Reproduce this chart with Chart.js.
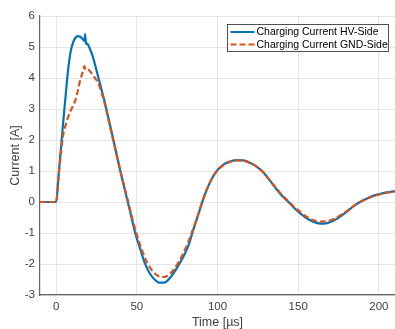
<!DOCTYPE html>
<html>
<head>
<meta charset="utf-8">
<script src="https://cdn.jsdelivr.net/npm/chart.js@4.4.1/dist/chart.umd.min.js"></script>
<style>
  html, body { margin: 0; padding: 0; background: #fff; }
  #wrap { width: 395px; height: 329px; }
</style>
</head>
<body>
<div id="wrap"><canvas id="chart"></canvas></div>
<script>
const timeUs = [-10, 0, 1.5, 3, 4.5, 6, 7.5, 9, 10.5, 12, 13.5, 15, 16.5, 17.5, 18, 18.5, 19, 20, 22, 24, 26, 28, 30, 32, 34, 37, 40, 43, 46, 49, 52, 55, 58, 61, 64, 67, 70, 73, 76, 79, 82, 85, 88, 91, 94, 97, 100, 104, 108, 112, 116, 120, 124, 128, 132, 136, 140, 144, 148, 152, 156, 160, 164, 168, 172, 176, 180, 184, 188, 192, 196, 200, 205, 210]

const hvSide = [0, 0, 0.85, 1.75, 2.65, 3.5, 4.3, 4.85, 5.15, 5.3, 5.35, 5.33, 5.25, 5.2, 5.42, 5.1, 5.12, 5.05, 4.8, 4.45, 4.05, 3.65, 3.25, 2.8, 2.35, 1.65, 0.95, 0.3, -0.35, -1.0, -1.5, -1.98, -2.3, -2.5, -2.6, -2.6, -2.48, -2.28, -2.02, -1.75, -1.4, -0.9, -0.42, 0.07, 0.48, 0.8, 1.03, 1.22, 1.31, 1.35, 1.34, 1.27, 1.15, 0.98, 0.72, 0.45, 0.2, 0.0, -0.22, -0.4, -0.55, -0.65, -0.7, -0.68, -0.6, -0.47, -0.32, -0.15, -0.01, 0.1, 0.19, 0.25, 0.31, 0.35]

const gndSide = [0, 0, 0.8, 1.6, 2.2, 2.5, 2.75, 2.95, 3.1, 3.3, 3.6, 3.95, 4.2, 4.38, 4.3, 4.28, 4.3, 4.27, 4.15, 4.0, 3.85, 3.55, 3.2, 2.75, 2.3, 1.62, 0.97, 0.35, -0.28, -0.88, -1.38, -1.8, -2.1, -2.3, -2.4, -2.42, -2.35, -2.17, -1.93, -1.63, -1.28, -0.85, -0.4, 0.08, 0.48, 0.8, 1.02, 1.2, 1.3, 1.34, 1.33, 1.27, 1.15, 0.98, 0.73, 0.47, 0.22, 0.02, -0.18, -0.35, -0.5, -0.6, -0.63, -0.62, -0.55, -0.43, -0.3, -0.14, -0.01, 0.1, 0.18, 0.24, 0.3, 0.34]

const seriesNames = ['Charging Current HV-Side', 'Charging Current GND-Side']
const xTicks = [0, 50, 100, 150, 200]
const yTicks = [-3, -2, -1, 0, 1, 2, 3, 4, 5, 6]

const blue = '#0072BD'
const orange = '#D95319'
const textColor = '#404040'
const gridColor = '#e5e5e5'
const axisColor = '#666666'
const font = 'Liberation Sans, Arial, Helvetica, sans-serif'

const toPoints = vals => timeUs.map((t, i) => ({ x: t, y: vals[i] }))

// legend drawn inside the plot, like matlab's northeast legend
const boxLegend = {
  id: 'boxLegend',
  afterDraw (chart) {
    const ctx = chart.ctx
    const ds = chart.data.datasets
    const x0 = 227.5
    const y0 = 24.5
    const w = 161
    const h = 27
    ctx.save()
    ctx.fillStyle = '#fff'
    ctx.fillRect(x0, y0, w, h)
    ctx.strokeStyle = '#262626'
    ctx.lineWidth = 0.8
    ctx.strokeRect(x0, y0, w, h)
    ctx.font = '10.5px ' + font
    ctx.textBaseline = 'middle'
    ds.forEach((d, i) => {
      const yy = y0 + 7.5 + i * 12.5
      ctx.strokeStyle = d.borderColor
      ctx.lineWidth = 2
      ctx.setLineDash(d.borderDash || [])
      ctx.beginPath()
      ctx.moveTo(x0 + 3, yy)
      ctx.lineTo(x0 + 27, yy)
      ctx.stroke()
      ctx.setLineDash([])
      ctx.fillStyle = '#000'
      ctx.fillText(d.label, x0 + 29, yy + 0.5)
    })
    ctx.restore()
  }
}

const myChart = document.querySelector('#chart')

// eslint-disable-next-line no-unused-vars, no-undef
const chart = new Chart(myChart, {
  type: 'line',
  data: {
    datasets: [{
      label: seriesNames[0],
      data: toPoints(hvSide),
      borderColor: blue,
      borderWidth: 2.2,
      pointRadius: 0,
      cubicInterpolationMode: 'monotone',
      order: 2
    }, {
      label: seriesNames[1],
      data: toPoints(gndSide),
      borderColor: orange,
      borderWidth: 2.2,
      borderDash: [6, 3],
      pointRadius: 0,
      cubicInterpolationMode: 'monotone',
      order: 1
    }]
  },
  options: {
    responsive: true,
    maintainAspectRatio: false,
    animation: false,
    layout: { padding: { top: 16, right: 0, left: 0, bottom: 0 } },
    plugins: {
      legend: { display: false },
      tooltip: { enabled: false }
    },
    scales: {
      x: {
        type: 'linear',
        min: -10,
        max: 210,
        afterBuildTicks: axis => { axis.ticks = xTicks.map(v => ({ value: v })) },
        afterFit: axis => { axis.height = 34 },
        grid: { color: gridColor, drawTicks: false },
        border: { color: axisColor, width: 1.2 },
        ticks: { color: textColor, font: { family: font, size: 11.5 }, padding: 5, maxRotation: 0 },
        title: {
          display: true,
          text: 'Time [µs]',
          color: textColor,
          font: { family: font, size: 12.5, lineHeight: 1 },
          padding: { top: 0, bottom: 0 }
        }
      },
      y: {
        min: -3,
        max: 6,
        afterBuildTicks: axis => { axis.ticks = yTicks.map(v => ({ value: v })) },
        afterFit: axis => { axis.width = 40 },
        grid: { color: gridColor, drawTicks: false },
        border: { color: axisColor, width: 1.2 },
        ticks: { color: textColor, font: { family: font, size: 11.5 }, padding: 5 },
        title: {
          display: true,
          text: 'Current [A]',
          color: textColor,
          font: { family: font, size: 12.5, lineHeight: 1.2 },
          padding: { top: 8, bottom: 0 }
        }
      }
    }
  },
  plugins: [boxLegend, {
    id: 'whiteBg',
    beforeDraw (c) {
      c.ctx.save()
      c.ctx.fillStyle = '#fff'
      c.ctx.fillRect(0, 0, c.width, c.height)
      c.ctx.restore()
    }
  }]
})
</script>
</body>
</html>
